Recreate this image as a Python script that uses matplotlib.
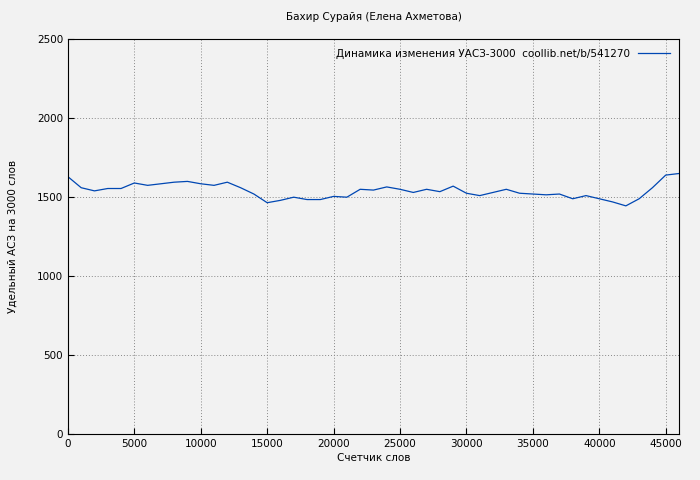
import matplotlib.pyplot as plt

words = list(range(0, 47000, 1000))
uasz = [1630, 1560, 1540, 1555, 1555, 1590, 1575, 1585, 1595, 1600,
        1585, 1575, 1595, 1560, 1520, 1465, 1480, 1500, 1485, 1485,
        1505, 1500, 1550, 1545, 1565, 1550, 1530, 1550, 1535, 1570,
        1525, 1510, 1530, 1550, 1525, 1520, 1515, 1520, 1490, 1510,
        1490, 1470, 1445, 1490, 1560, 1640, 1650]

fig = plt.figure(figsize=(7, 4.8), dpi=100, facecolor='#f2f2f2')
ax = fig.add_axes([0.097, 0.096, 0.873, 0.822], facecolor='#f2f2f2')
ax.plot(words, uasz, color='#0047b3', lw=0.9,
        label='Динамика изменения УАСЗ-3000  coollib.net/b/541270')
ax.set_xlim(0, 46000)
ax.set_ylim(0, 2500)
ax.set_xticks(range(0, 46000, 5000))
ax.set_yticks(range(0, 2501, 500))
ax.grid(True, color='#888888', ls=(0, (1, 2)), lw=0.7)
ax.tick_params(labelsize=7.5, direction='in', length=4)
ax.set_xlabel('Счетчик слов', fontsize=7.5, labelpad=3)
ax.set_ylabel('Удельный АСЗ на 3000 слов', fontsize=7.5, labelpad=14)
ax.set_title('Бахир Сурайя (Елена Ахметова)', fontsize=7.5, pad=14)
leg = ax.legend(loc='upper right', fontsize=7.5, frameon=False, markerfirst=False,
                handlelength=3)
fig.savefig('out.png', facecolor=fig.get_facecolor())
